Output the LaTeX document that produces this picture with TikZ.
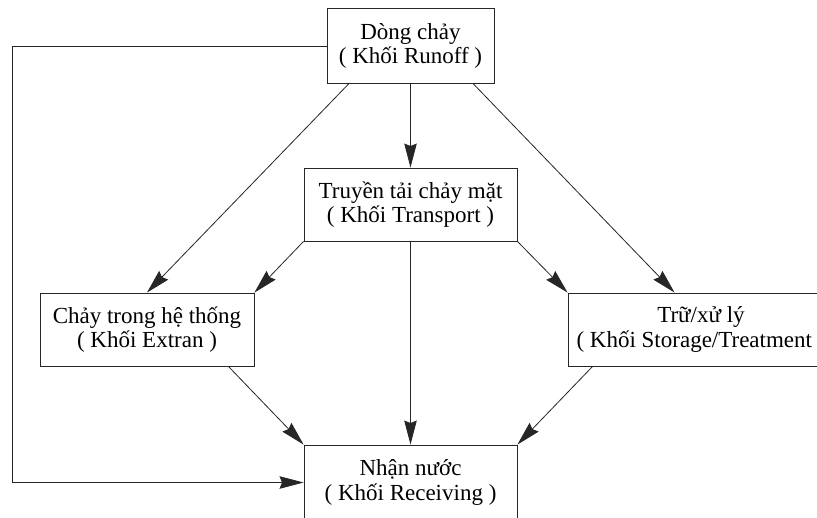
\documentclass[tikz,border=0pt]{standalone}
\usepackage{fontspec}
\setmainfont{Liberation Serif}
\usetikzlibrary{arrows.meta,calc}
\begin{document}
\begin{tikzpicture}[x=1pt,y=-1pt,
  box/.style={draw=black!85, line width=0.9pt, rectangle, inner sep=0pt, align=center,
    font=\rmfamily\fontsize{23}{24.5}\selectfont},
  conn/.style={draw=black!85, line width=0.8pt},
  arr/.style={conn, -{Stealth[length=24pt,width=12.5pt,inset=2.5pt]}}]
\clip (0,0) rectangle (817,517);
\fill[white] (0,0) rectangle (817,517);
\node[box, minimum width=167pt, minimum height=75pt] (run) at (410.5,46) {Dòng chảy\\( Khối Runoff )};
\node[box, minimum width=213pt, minimum height=73pt] (trans) at (410.5,204.5) {Truyền tải chảy mặt\\( Khối Transport )};
\node[box, minimum width=214pt, minimum height=73pt] (ext) at (147,329.5) {Chảy trong hệ thống\\( Khối Extran )};
\node[box, minimum width=266pt, minimum height=73pt] (stor) at (701,329.5) {Trữ/xử lý\\( Khối Storage/Treatment )};
\node[box, minimum width=213pt, minimum height=75pt] (recv) at (410.5,482.5) {Nhận nước\\( Khối Receiving )};
\coordinate (lx) at (12,0);
% connectors
\draw[arr] ($(run.south west)+(22,0)$) -- (ext.north);
\draw[arr] (run.south) -- (trans.north);
\draw[arr] ($(run.south east)+(-21,0)$) -- ($(stor.north west)+(107,0)$);
\draw[arr] (trans.south west) -- (ext.north east);
\draw[arr] (trans.south east) -- (stor.north west);
\draw[arr] (trans.south) -- (recv.north);
\draw[arr] ($(ext.south east)+(-26,0)$) -- (recv.north west);
\draw[arr] ($(stor.south west)+(25,0)$) -- (recv.north east);
\draw[arr] (run.west) -- (run.west -| lx) -- (recv.west -| lx) -- (recv.west);
\end{tikzpicture}
\end{document}
